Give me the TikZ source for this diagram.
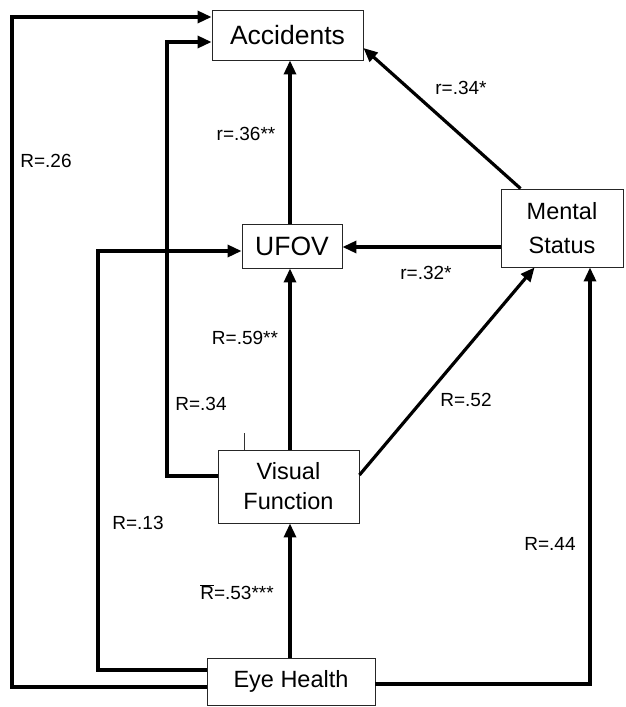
\documentclass[tikz,border=0pt]{standalone}
\usepackage{fontspec}
\setmainfont{Liberation Sans}
\usetikzlibrary{arrows.meta,calc}
\begin{document}
\begin{tikzpicture}[x=1pt,y=-1pt,
  box/.style={draw=black!85,line width=0.9pt,inner sep=0pt,align=center,font=\fontsize{23.5}{34}\selectfont},
  bigbox/.style={box,font=\fontsize{26.5}{30}\selectfont},
  conn/.style={line width=3.2pt},
  arr/.style={conn,-{Triangle[length=14pt,width=12pt]}},
  lab/.style={inner sep=0pt,font=\fontsize{19}{22}\selectfont}]
\useasboundingbox (0,0) rectangle (626,707);
% boxes
\node[bigbox,minimum width=151pt,minimum height=50pt] (acc) at (287.5,35) {Accidents};
\node[bigbox,minimum width=100pt,minimum height=44pt] (ufov) at (292,246) {UFOV};
\node[box,minimum width=122pt,minimum height=78pt] (ms) at (562,228) {Mental\\Status};
\node[box,minimum width=141pt,minimum height=73pt,font=\fontsize{23.5}{30}\selectfont] (vf) at (288.5,486.5) {Visual\\Function};
\node[box,minimum width=168pt,minimum height=47pt] (eh) at (291,681.5) {Eye Health};
% helper coordinates
\coordinate (col) at (290,0);
\coordinate (c1) at (12,17);
\coordinate (c2) at (98,251);
\coordinate (c3) at (167,42);
\coordinate (c4) at (590,0);
\coordinate (m1) at ([yshift=-19pt]ms.west);
% connectors
\draw[arr] (col |- eh.north) -- (col |- vf.south);
\draw[arr] (col |- vf.north) -- (col |- ufov.south);
\draw[arr] (col |- ufov.north) -- (col |- acc.south);
\draw[arr] ([xshift=20pt]ms.north west) -- ([yshift=-13pt]acc.east);
\draw[arr] (m1) -- (m1 -| ufov.east);
\draw[arr] ([yshift=11.5pt]vf.east) -- ([xshift=34pt]ms.south west);
\draw[arr] ([yshift=-2.5pt]eh.east) -| (c4 |- ms.south);
\draw[arr] ([yshift=-5.5pt]eh.west) -| (c1) -- (c1 -| acc.west);
\draw[arr] ([yshift=11.5pt]eh.west) -| (c2) -- (c2 -| ufov.west);
\draw[arr] ([yshift=10.5pt]vf.west) -| (c3) -- (c3 -| acc.west);
% small tick
\draw[line width=0.8pt,black!80] ([xshift=27pt]vf.north west) -- ++(0,-17);
% labels
\node[lab] (l26) at (46,161) {R=.26};
\node[lab] (l36) at (246,134) {r=.36**};
\node[lab] (l34s) at (461,88) {r=.34*};
\node[lab] (l32) at (426,273) {r=.32*};
\node[lab] (l59) at (245,338) {R=.59**};
\node[lab] (l34) at (201,404) {R=.34};
\node[lab] (l52) at (466,400) {R=.52};
\node[lab] (l13) at (138,523) {R=.13};
\node[lab] (l53) at (237,592) {$\overline{\mbox{R}}$=.53***};
\node[lab] (l44) at (550,544) {R=.44};
\end{tikzpicture}
\end{document}
